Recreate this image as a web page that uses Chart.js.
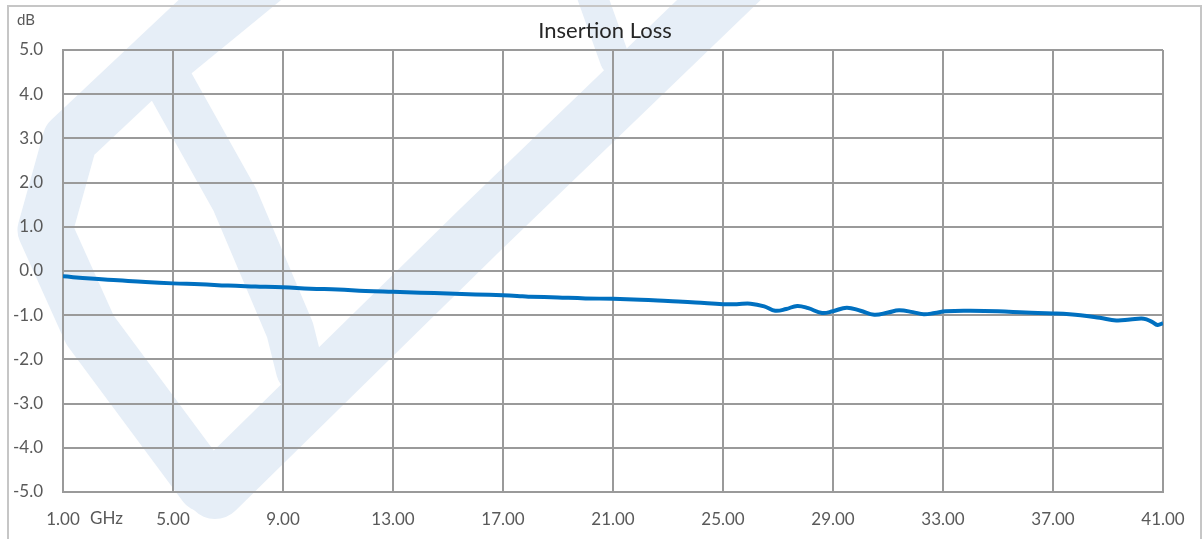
<!DOCTYPE html>
<html>
<head>
<meta charset="utf-8">
<script src="https://cdn.jsdelivr.net/npm/chart.js@4"></script>
<style>
    html, body { margin: 0; padding: 0; background: #fff; }
    #wrap { width: 1203px; height: 539px; }
</style>
</head>
<body>
<div id="wrap"><canvas id="graficoIL"></canvas></div>
<script>
// frequencia (GHz) e perda de insercao (dB)
const freq = [1, 2, 3, 4, 5, 6, 7, 8, 9, 10, 11, 12, 13, 14, 15, 16, 17, 17.7, 18, 19, 20, 21, 22, 23, 24, 25,
    25.5, 26, 26.5, 26.9, 27.3, 27.7, 28.1, 28.6, 29.0, 29.5, 30.0, 30.5, 31.0, 31.4, 31.9, 32.3, 32.7, 33.1,
    34, 35, 36, 37, 38, 38.7, 39.3, 39.8, 40.3, 40.6, 40.8, 41];
const perda = [-0.12, -0.17, -0.21, -0.25, -0.28, -0.30, -0.33, -0.35, -0.37, -0.40, -0.42, -0.45, -0.47, -0.49, -0.51, -0.53, -0.55, -0.57, -0.58, -0.60, -0.62, -0.63, -0.65, -0.68, -0.71, -0.75,
    -0.75, -0.74, -0.80, -0.90, -0.86, -0.79, -0.84, -0.95, -0.91, -0.83, -0.90, -0.99, -0.94, -0.89, -0.93, -0.98, -0.95, -0.91,
    -0.90, -0.91, -0.94, -0.96, -1.00, -1.06, -1.12, -1.10, -1.08, -1.15, -1.22, -1.18];

const eixoX = { min: 1, max: 41, passo: 4 };
const eixoY = { min: -5, max: 5, passo: 1 };

const titulo = 'Insertion Loss';
const fonte = 'Lato, "Open Sans", sans-serif';
const corGrade = '#9a9a9a';
const corTexto = '#595959';

// fundo, marca d'agua, moldura e textos soltos
const decoracao = {
    id: 'decoracao',
    beforeDraw(chart) {
        const ctx = chart.ctx;
        ctx.save();
        ctx.fillStyle = '#fff';
        ctx.fillRect(0, 0, chart.width, chart.height);

        ctx.strokeStyle = '#e6eef7';
        ctx.lineCap = 'round';
        ctx.lineJoin = 'round';
        const faixa = (pts, w) => {
            ctx.lineWidth = w;
            ctx.beginPath();
            ctx.moveTo(pts[0][0], pts[0][1]);
            pts.slice(1).forEach(p => ctx.lineTo(p[0], p[1]));
            ctx.stroke();
        };
        faixa([[240, -20], [70, 140], [45, 230], [90, 330], [205, 485]], 55);
        faixa([[215, 490], [480, 230], [750, -30]], 58);
        faixa([[165, 75], [235, 200], [290, 330], [300, 370]], 48);
        faixa([[160, 70], [270, -20]], 45);
        faixa([[590, -10], [615, 60]], 30);
        ctx.restore();
    },
    afterDraw(chart) {
        const ctx = chart.ctx;
        ctx.save();
        ctx.strokeStyle = '#c6c6c6';
        ctx.lineWidth = 2;
        ctx.strokeRect(8, 6, 1193, 600);

        ctx.textBaseline = 'middle';
        ctx.textAlign = 'center';
        ctx.fillStyle = '#262626';
        ctx.font = '22px ' + fonte;
        ctx.fillText(titulo, 605, 31);

        ctx.fillStyle = corTexto;
        ctx.textAlign = 'left';
        ctx.font = '15px ' + fonte;
        ctx.fillText('dB', 17, 20);
        ctx.font = '17px ' + fonte;
        ctx.fillText('GHz', 90, 519);
        ctx.restore();
    }
};

new Chart(document.getElementById('graficoIL').getContext('2d'), {
    type: 'line',
    data: {
        datasets: [{
            label: titulo,
            data: freq.map((f, i) => ({ x: f, y: perda[i] })),
            borderColor: '#0070C0',
            borderWidth: 4,
            pointRadius: 0,
            tension: 0.4,
            fill: false
        }]
    },
    options: {
        responsive: true,
        maintainAspectRatio: false,
        animation: false,
        layout: { padding: { left: 0, right: 40, top: 50, bottom: 0 } },
        plugins: {
            legend: { display: false },
            tooltip: { enabled: false },
            title: { display: false }
        },
        scales: {
            x: {
                type: 'linear',
                min: eixoX.min,
                max: eixoX.max,
                afterFit: s => { s.height = 47; },
                ticks: {
                    stepSize: eixoX.passo,
                    color: corTexto,
                    font: { family: fonte, size: 17 },
                    padding: 17,
                    maxRotation: 0,
                    callback: v => v.toFixed(2)
                },
                grid: { color: corGrade, lineWidth: 2, drawTicks: false },
                border: { color: corGrade, width: 2 }
            },
            y: {
                min: eixoY.min,
                max: eixoY.max,
                afterFit: s => { s.width = 63; },
                ticks: {
                    stepSize: eixoY.passo,
                    color: corTexto,
                    font: { family: fonte, size: 17 },
                    crossAlign: 'near',
                    padding: 20,
                    callback: v => v.toFixed(1)
                },
                grid: { color: corGrade, lineWidth: 2, drawTicks: false },
                border: { color: corGrade, width: 2 }
            }
        }
    },
    plugins: [decoracao]
});
</script>
</body>
</html>
